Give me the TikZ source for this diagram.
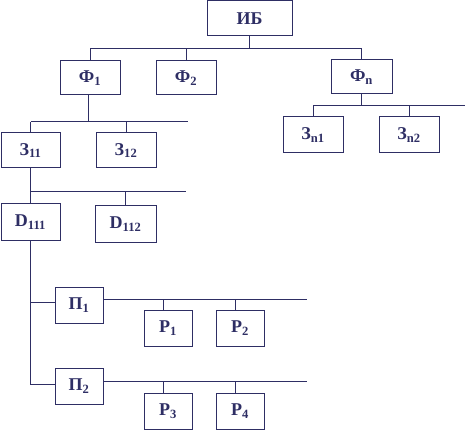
\documentclass[tikz,border=0pt]{standalone}
\usepackage{fontspec}
\setmainfont{Liberation Serif}
\definecolor{ink}{RGB}{46,46,100}
\tikzset{
  box/.style={draw=ink, text=ink, inner sep=0pt, line width=1pt,
    minimum width=60pt, minimum height=36pt,
    font=\bfseries\fontsize{18}{20}\selectfont},
  wire/.style={draw=ink, line width=1pt}
}
\newcommand{\sub}[2]{#1\textsubscript{#2}}
\begin{document}
\begin{tikzpicture}[x=1pt, y=-1pt]
\useasboundingbox (0,0) rectangle (465,430);

% boxes
\node[box, minimum width=85pt, minimum height=35pt] (ib) at (249.5,18.5) {ИБ};
\node[box, minimum height=34pt] (f1) at (90,78) {\sub{Ф}{1}};
\node[box, minimum height=34pt] (f2) at (186,78) {\sub{Ф}{2}};
\node[box, minimum width=61pt, minimum height=34pt] (fn) at (361.5,77) {\sub{Ф}{n}};
\node[box, minimum width=59pt, minimum height=35pt] (z11) at (30.5,150.5) {\sub{З}{11}};
\node[box, minimum height=35pt] (z12) at (126,150.5) {\sub{З}{12}};
\node[box] (zn1) at (313,135) {\sub{З}{n1}};
\node[box] (zn2) at (409,135) {\sub{З}{n2}};
\node[box, minimum width=59pt] (d111) at (30.5,222) {\sub{D}{111}};
\node[box, minimum width=61pt] (d112) at (125.5,224) {\sub{D}{112}};
\node[box, minimum width=48pt] (p1) at (79,305) {\sub{П}{1}};
\node[box, minimum width=48pt] (p2) at (79,386) {\sub{П}{2}};
\node[box, minimum width=48pt] (r1) at (168,328) {\sub{Р}{1}};
\node[box, minimum width=48pt] (r2) at (240,328) {\sub{Р}{2}};
\node[box, minimum width=48pt] (r3) at (168,411) {\sub{Р}{3}};
\node[box, minimum width=48pt] (r4) at (240,411) {\sub{Р}{4}};

% bus levels and free ends
\coordinate (b0) at (0,49);
\coordinate (bz) at (188,122);
\coordinate (bzn) at (465,106);
\coordinate (bd) at (186,192);
\coordinate (sp1) at (0,302);
\coordinate (sp2) at (0,384);
\coordinate (bp1) at (307,299);
\coordinate (bp2) at (307,381);

% top level
\draw[wire] (ib.south) -- (ib.south |- b0);
\draw[wire] (f1.north |- b0) -- (fn.north |- b0);
\foreach \n in {f1,f2,fn} \draw[wire] (\n.north) -- (\n.north |- b0);

% under Ф1
\draw[wire] ([xshift=-2pt]f1.south) -- ([xshift=-2pt]f1.south |- bz);
\draw[wire] (z11.north |- bz) -- (bz);
\foreach \n in {z11,z12} \draw[wire] (\n.north) -- (\n.north |- bz);

% under Фn
\draw[wire] (fn.south) -- (fn.south |- bzn);
\draw[wire] (zn1.north |- bzn) -- (bzn);
\foreach \n in {zn1,zn2} \draw[wire] (\n.north) -- (\n.north |- bzn);

% under З11
\draw[wire] (z11.south) -- (d111.north);
\draw[wire] (z11.south |- bd) -- (bd);
\draw[wire] (d112.north) -- (d112.north |- bd);

% under D111
\draw[wire] (d111.south) -- (d111.south |- sp2) -- (p2.west |- sp2);
\draw[wire] (d111.south |- sp1) -- (p1.west |- sp1);

% buses of П1 and П2
\draw[wire] (p1.east |- bp1) -- (bp1);
\draw[wire] (p2.east |- bp2) -- (bp2);
\foreach \n in {r1,r2} \draw[wire] ([xshift=-5pt]\n.north) -- ([xshift=-5pt]\n.north |- bp1);
\foreach \n in {r3,r4} \draw[wire] ([xshift=-5pt]\n.north) -- ([xshift=-5pt]\n.north |- bp2);
\end{tikzpicture}
\end{document}
